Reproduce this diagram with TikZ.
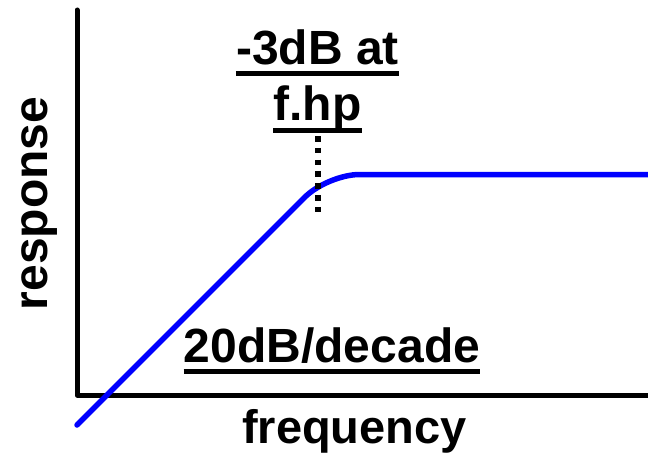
\documentclass[tikz,border=0pt]{standalone}
\usepackage{fontspec}
\setmainfont{Liberation Sans}
\usetikzlibrary{%
  calc
}
\tikzset{
  axis/.style={line width=5pt, line cap=round, line join=round},
  resp/.style={line width=5.5pt, blue, line cap=round},
  lbl/.style={inner sep=0pt, anchor=base,
    font=\fontsize{48}{56}\selectfont\bfseries},
  uline/.style={line width=5pt}
}

\begin{document}
\begin{tikzpicture}[x=1pt,y=1pt]
  \useasboundingbox (0,0) rectangle (648,459);

  % axes
  \coordinate (ytop) at (77,449);
  \coordinate (o) at (77,64);
  \coordinate (xend) at (648,64);
  \draw[axis] (ytop) -- (o) -- (xend);

  % high-pass response: 45 degree slope, flat above the corner
  \coordinate (lo) at (77,34);
  \coordinate (knee) at (327.5,284.5);
  \coordinate (hi) at (648,284.5);
  \draw[resp, rounded corners=32pt] (lo) -- (knee) -- (hi);

  % marker at the corner frequency
  \coordinate (ftop) at (317.5,323);
  \coordinate (fbot) at (317.5,246);
  \draw[line width=6pt, dash pattern=on 5.5pt off 6.3pt] (ftop) -- (fbot);

  \node[lbl] (cutoff) at (317.5,394) {-3dB at};
  \node[lbl] (fhp) at (317.5,338) {f.hp};
  \node[lbl] (slope) at (332,97) {20dB/decade};
  \node[lbl, font=\fontsize{47}{56}\selectfont\bfseries] (xlab) at (354.5,16) {frequency};
  \node[lbl, rotate=90] (ylab) at (47,255.5) {response};

  \foreach \n in {cutoff,fhp,slope}
    \draw[uline] ($(\n.base west)+(0,-9)$) -- ($(\n.base east)+(0,-9)$);

\end{tikzpicture}
\end{document}
